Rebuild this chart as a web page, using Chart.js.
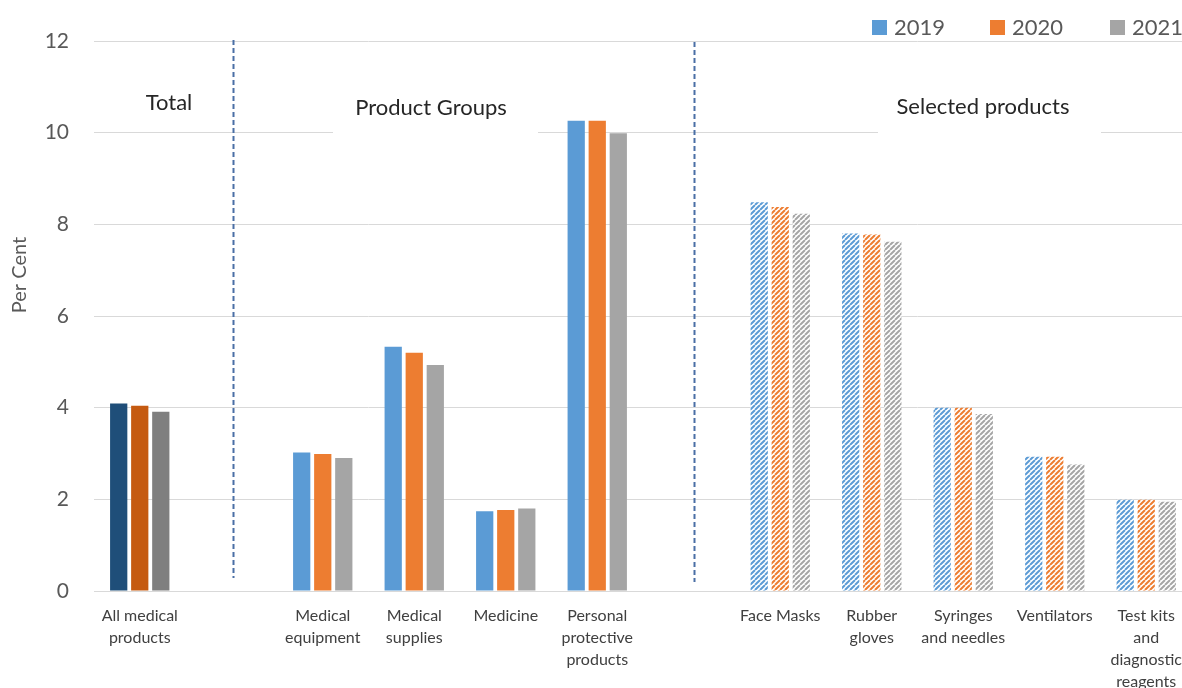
<!DOCTYPE html>
<html>
<head>
<meta charset="utf-8">
<script src="https://cdn.jsdelivr.net/npm/chart.js@4"></script>
<style>
    html, body { margin: 0; padding: 0; background: #fff; overflow: hidden; }
    #wrap { position: relative; width: 1195px; height: 688px; }
</style>
</head>
<body>
<div id="wrap"><canvas id="chart"></canvas></div>
<script>
// categories (two blank slots hold the section dividers)
const categories = [
    ['All medical', 'products'],
    '',
    ['Medical', 'equipment'],
    ['Medical', 'supplies'],
    'Medicine',
    ['Personal', 'protective', 'products'],
    '',
    'Face Masks',
    ['Rubber', 'gloves'],
    ['Syringes', 'and needles'],
    'Ventilators',
    ['Test kits', 'and', 'diagnostic', 'reagents']
];
const years = ['2019', '2020', '2021'];
const values2019 = [4.09, null, 3.02, 5.33, 1.74, 10.26, null, 8.48, 7.80, 4.00, 2.93, 1.99];
const values2020 = [4.04, null, 2.99, 5.20, 1.77, 10.26, null, 8.38, 7.78, 4.00, 2.93, 1.99];
const values2021 = [3.91, null, 2.90, 4.93, 1.80, 9.99, null, 8.23, 7.62, 3.86, 2.76, 1.95];
const yTicks = [0, 2, 4, 6, 8, 10, 12];
const sectionLabels = ['Total', 'Product Groups', 'Selected products'];
const yTitle = 'Per Cent';

const FONT = 'Lato, "Open Sans", sans-serif';
const baseColors = ['#5B9BD5', '#ED7D31', '#A5A5A5'];
const darkColors = ['#1F4E79', '#C55A11', '#7F7F7F'];

// diagonal stripe pattern used for the "Selected products" bars
function makeHatch(color) {
    const size = 5;
    const c = document.createElement('canvas');
    c.width = size;
    c.height = size;
    const ctx = c.getContext('2d');
    ctx.fillStyle = '#fff';
    ctx.fillRect(0, 0, size, size);
    ctx.strokeStyle = color;
    ctx.lineWidth = 2;
    ctx.beginPath();
    for (let k = -1; k <= 1; k++) {
        ctx.moveTo(k * size, size);
        ctx.lineTo(k * size + size, 0);
    }
    ctx.stroke();
    return ctx.createPattern(c, 'repeat');
}

function barColors(i) {
    const hatch = makeHatch(baseColors[i]);
    return categories.map((c, idx) => {
        if (idx === 0) return darkColors[i];
        if (idx >= 7) return hatch;
        return baseColors[i];
    });
}

const seriesValues = [values2019, values2020, values2021];

const sectionPlugin = {
    id: 'sections',
    beforeDatasetsDraw(chart) {
        const { ctx, scales: { x } } = chart;
        ctx.save();
        // white boxes behind the section titles (they hide part of the gridline)
        ctx.fillStyle = '#fff';
        ctx.fillRect(333, 84, 205, 56);
        ctx.fillRect(878, 84, 223, 56);

        ctx.font = '22px ' + FONT;
        ctx.fillStyle = '#262626';
        ctx.textAlign = 'center';
        ctx.textBaseline = 'middle';
        ctx.fillText(sectionLabels[0], 169, 103);
        ctx.fillText(sectionLabels[1], 431, 108);
        ctx.fillText(sectionLabels[2], 983, 107);

        // dashed dividers
        ctx.strokeStyle = '#4A6FA5';
        ctx.lineWidth = 2;
        ctx.setLineDash([5, 3]);
        [[1.02, 40, 578], [6.06, 42, 582]].forEach(([v, y0, y1]) => {
            const px = Math.round(x.getPixelForValue(v)) + 0.5;
            ctx.beginPath();
            ctx.moveTo(px, y0);
            ctx.lineTo(px, y1);
            ctx.stroke();
        });
        ctx.restore();
    },
    afterDraw(chart) {
        const { ctx } = chart;
        ctx.save();
        // y axis title
        ctx.font = '20px ' + FONT;
        ctx.fillStyle = '#595959';
        ctx.textAlign = 'center';
        ctx.textBaseline = 'middle';
        ctx.translate(20, 275);
        ctx.rotate(-Math.PI / 2);
        ctx.fillText(yTitle, 0, 0);
        ctx.restore();

        // legend in the top right corner
        ctx.save();
        ctx.font = '22px ' + FONT;
        ctx.textBaseline = 'middle';
        ctx.textAlign = 'left';
        const starts = [872, 990, 1110];
        years.forEach((y, i) => {
            ctx.fillStyle = baseColors[i];
            ctx.fillRect(starts[i], 20, 15, 15);
            ctx.fillStyle = '#595959';
            ctx.fillText(y, starts[i] + 22, 28);
        });
        ctx.restore();
    }
};

new Chart(document.getElementById('chart'), {
    type: 'bar',
    data: {
        labels: categories,
        datasets: years.map((y, i) => ({
            label: y,
            data: seriesValues[i],
            backgroundColor: barColors(i),
            borderWidth: 0,
            categoryPercentage: 0.69,
            barPercentage: 0.82
        }))
    },
    options: {
        responsive: true,
        maintainAspectRatio: false,
        animation: false,
        layout: { padding: { top: 41, right: 3, bottom: 0, left: 0 } },
        plugins: {
            legend: { display: false },
            tooltip: { enabled: false }
        },
        scales: {
            x: {
                afterFit: (s) => { s.height = 97; },
                grid: { display: false },
                border: { display: true, color: '#D9D9D9' },
                ticks: {
                    autoSkip: false,
                    maxRotation: 0,
                    padding: 6,
                    color: '#404040',
                    font: { family: FONT, size: 16, lineHeight: 1.375 }
                }
            },
            y: {
                min: 0,
                max: 12,
                afterBuildTicks: (s) => { s.ticks = yTicks.map(v => ({ value: v })); },
                afterFit: (s) => { s.width = 94; },
                grid: { color: '#D9D9D9', drawTicks: false },
                border: { display: false },
                ticks: {
                    padding: 25,
                    color: '#595959',
                    font: { family: FONT, size: 21 }
                }
            }
        }
    },
    plugins: [sectionPlugin]
});
</script>
</body>
</html>
